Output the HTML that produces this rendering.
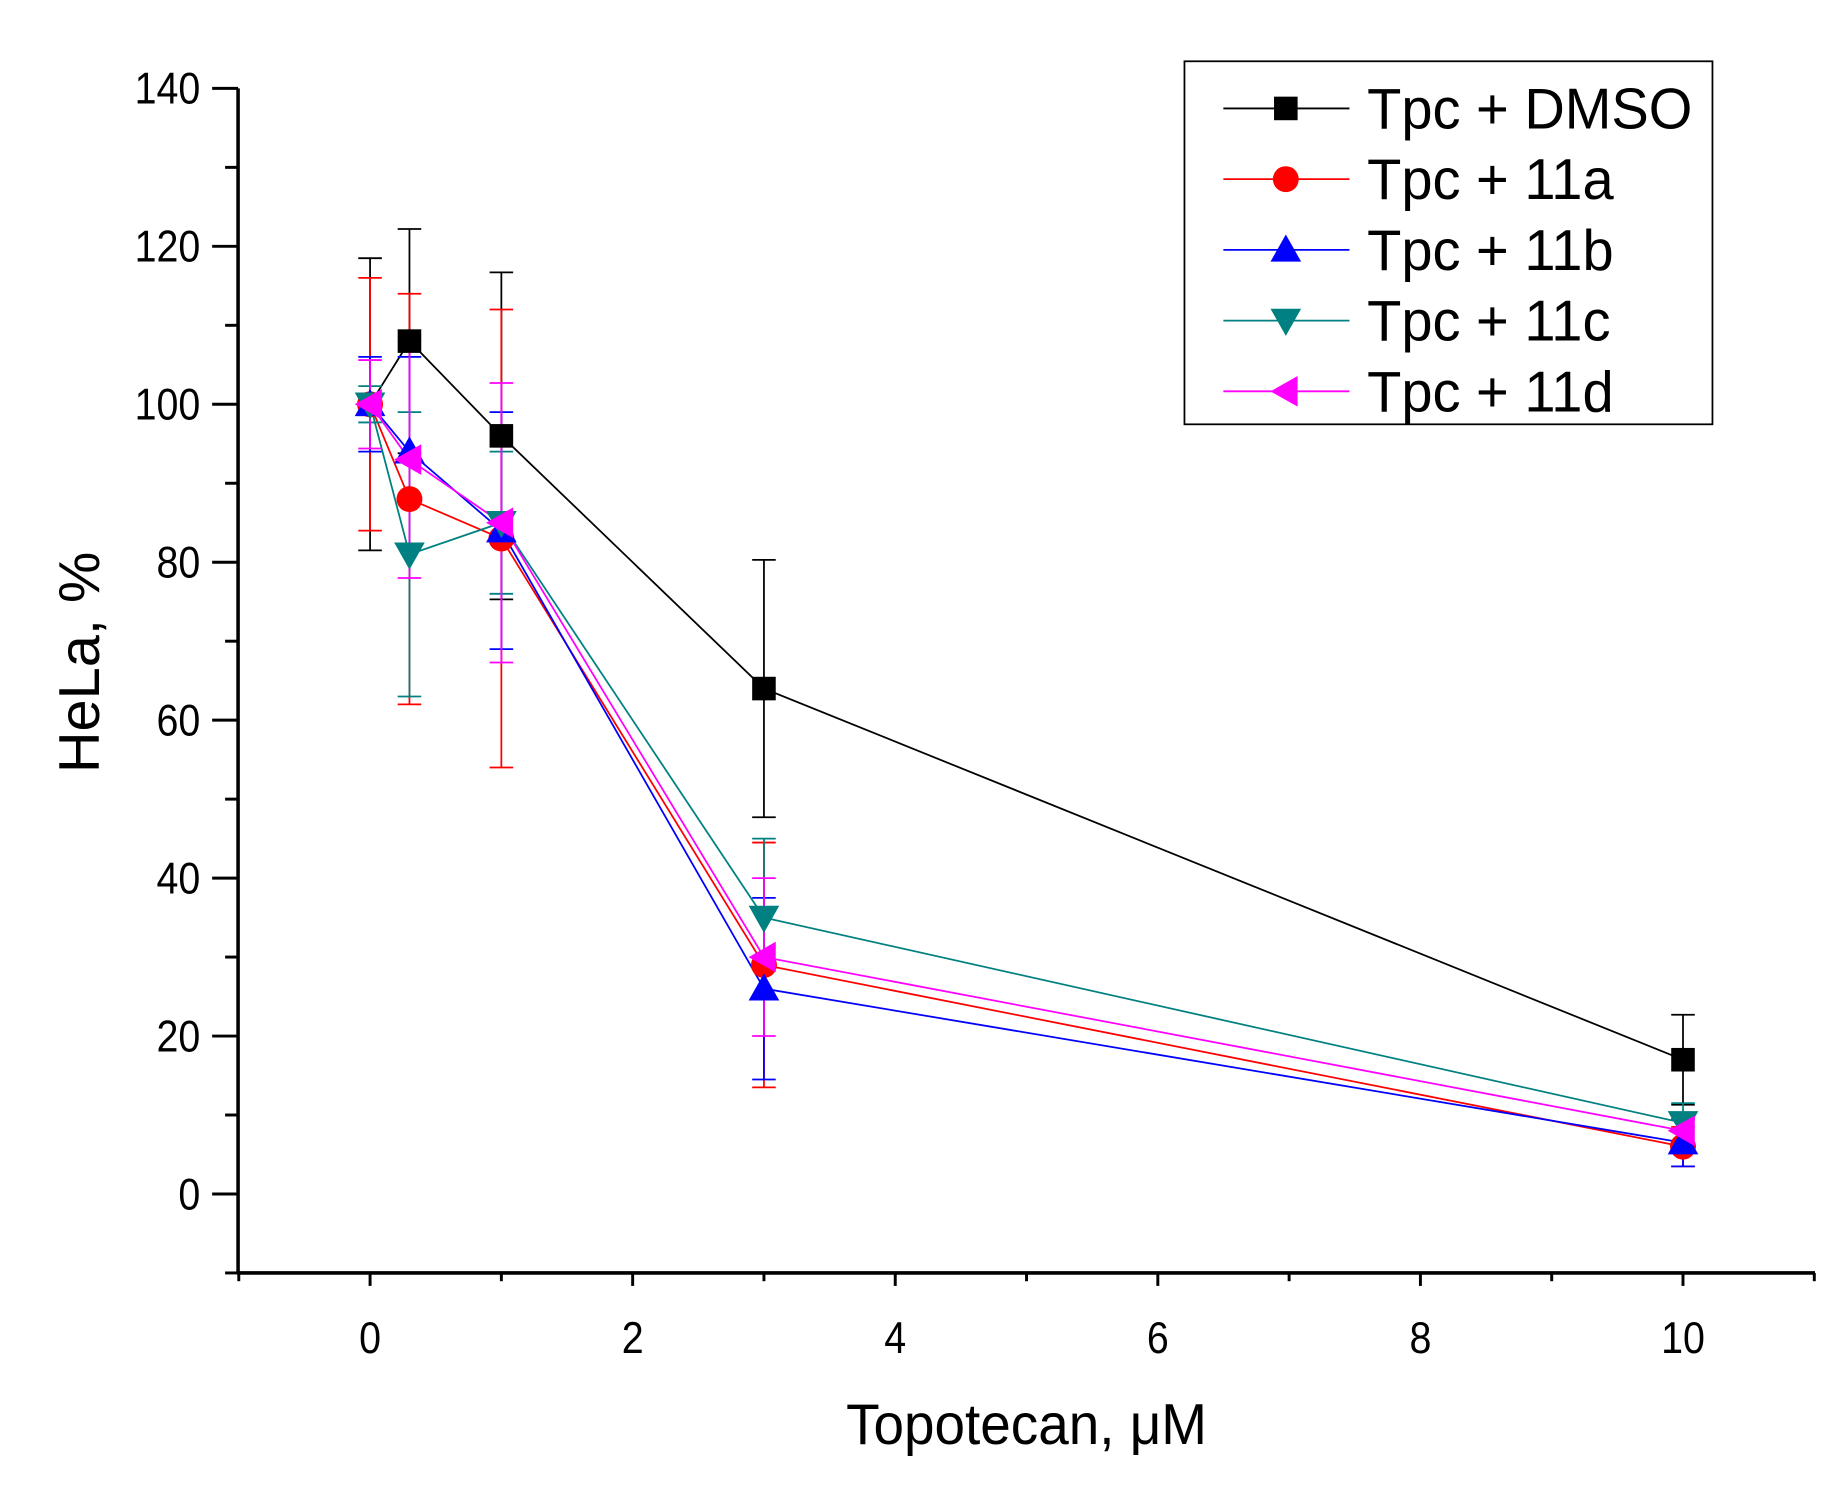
<!DOCTYPE html>
<html><head><meta charset="utf-8"><style>
html,body{margin:0;padding:0;background:#fff;}
svg{display:block;}
text{font-family:"Liberation Sans",Arial,sans-serif;fill:#000;}
</style></head><body>
<svg id="s" width="1848" height="1491" viewBox="0 0 1568 1265" preserveAspectRatio="none" xmlns="http://www.w3.org/2000/svg"></svg>
<script>
const s=document.getElementById('s');
let h='';
const X=v=>314+v*111.4, Y=v=>1013-v*6.7;
function T(x,y,str,fs,sx,anchor){
 return `<text transform="translate(${x},${y}) scale(${sx},1)" font-size="${fs}" text-anchor="${anchor}">${str}</text>`;}
h+=`<line x1="202" y1="75" x2="202" y2="1081" stroke="#000" stroke-width="3"/>`;
h+=`<line x1="201" y1="1080" x2="1540" y2="1080" stroke="#000" stroke-width="3"/>`;
for(let v=-10;v<=140;v+=10){const y=Y(v);const maj=v%20==0;h+=`<line x1="${maj?180:191}" y1="${y}" x2="202" y2="${y}" stroke="#000" stroke-width="2.5"/>`;
 if(maj&&v>=0)h+=T(170,y+13,v,38,0.88,'end');}
for(let v=-1;v<=11;v++){const x=X(v);const maj=v%2==0;h+=`<line x1="${x}" y1="1080" x2="${x}" y2="${maj?1091:1087}" stroke="#000" stroke-width="2.5"/>`;
 if(maj&&v>=0)h+=T(x,1148,v,38,0.88,'middle');}
h+=T(871,1225,'Topotecan, μM',49,0.95,'middle');
h+=`<text transform="translate(84,562) rotate(-90)" font-size="49" text-anchor="middle">HeLa, %</text>`;
const xs=[0,0.3,1,3,10];
const S=[
 ['#000','sq',[100,108,96,64,17],[18.5,14.2,20.7,16.3,5.7]],
 ['#f00','ci',[100,88,83,29,6],[16,26,29,15.5,2.5]],
 ['#00f','up',[100,94,84,26,6.5],[6,12,15,11.5,3]],
 ['#008080','dn',[100,81,85,35,9],[2.3,18,9,10,2.5]],
 ['#f0f','lt',[100,93,85,30,8],[5.6,15,17.7,10,2]]];
function mk(t,x,y,c){
 if(t=='sq')return `<rect x="${x-10}" y="${y-10}" width="20" height="20" fill="${c}"/>`;
 if(t=='ci')return `<circle cx="${x}" cy="${y}" r="11" fill="${c}"/>`;
 if(t=='up')return `<polygon points="${x},${y-13} ${x+13},${y+10} ${x-13},${y+10}" fill="${c}"/>`;
 if(t=='dn')return `<polygon points="${x},${y+13} ${x+13},${y-10} ${x-13},${y-10}" fill="${c}"/>`;
 return `<polygon points="${x-13},${y} ${x+10},${y-13} ${x+10},${y+13}" fill="${c}"/>`;}
S.forEach(([c,t,ys,es])=>{
 let p=xs.map((x,i)=>X(x)+','+Y(ys[i])).join(' ');
 h+=`<polyline points="${p}" fill="none" stroke="${c}" stroke-width="1.5"/>`;
 xs.forEach((x,i)=>{const px=X(x),a=Y(ys[i]+es[i]),b=Y(ys[i]-es[i]);
  h+=`<line x1="${px}" y1="${a}" x2="${px}" y2="${b}" stroke="${c}" stroke-width="1.5"/><line x1="${px-10}" y1="${a}" x2="${px+10}" y2="${a}" stroke="${c}" stroke-width="1.5"/><line x1="${px-10}" y1="${b}" x2="${px+10}" y2="${b}" stroke="${c}" stroke-width="1.5"/>`;});
});
S.forEach(([c,t,ys])=>{xs.forEach((x,i)=>{h+=mk(t,X(x),Y(ys[i]),c);});});
h+=`<rect x="1005" y="52" width="448" height="308" fill="#fff" stroke="#000" stroke-width="1.5"/>`;
const L=['Tpc + DMSO','Tpc + 11a','Tpc + 11b','Tpc + 11c','Tpc + 11d'];
S.forEach(([c,t],i)=>{const y=92+i*60;
 h+=`<line x1="1038" y1="${y}" x2="1145" y2="${y}" stroke="${c}" stroke-width="1.5"/>`+mk(t,1091,y,c)+T(1160,y+17,L[i],49,0.97,'start');});
s.innerHTML=h;
</script>
</body></html>
